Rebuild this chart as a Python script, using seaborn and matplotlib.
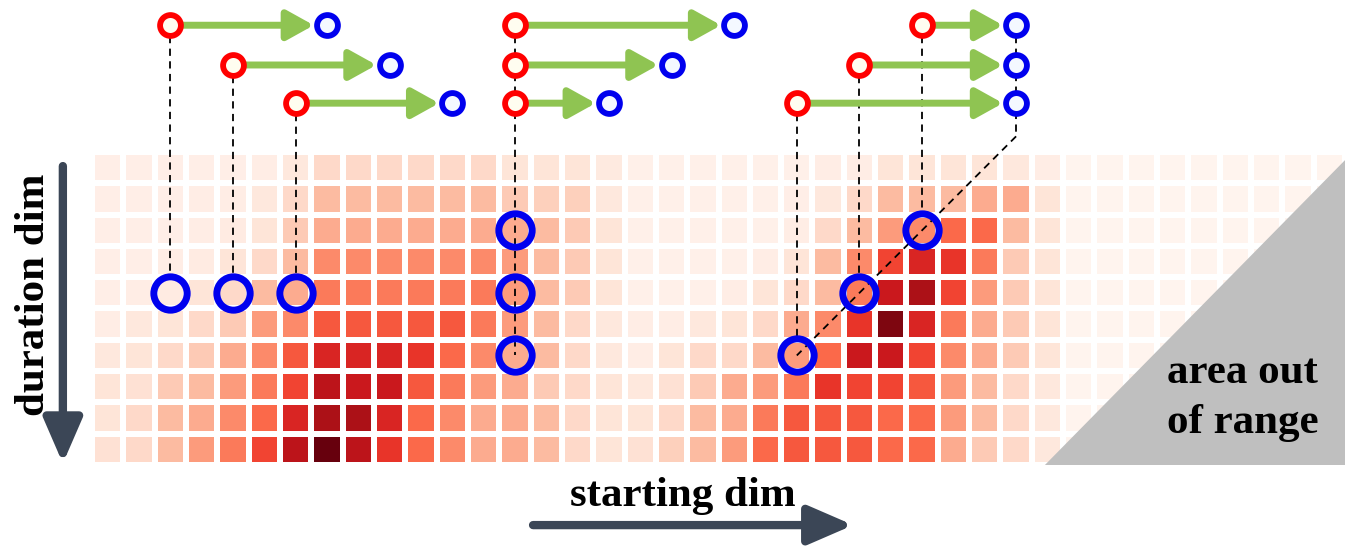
import numpy as np
import pandas as pd
import seaborn as sns
import matplotlib.pyplot as plt
from matplotlib.patches import Polygon

# heatmap intensities, 10 duration rows x 40 start columns
r0 = [0.4, 0.4, 0.4, 0.4, 0.4, 0.5, 0.8, 1.5, 1.5, 1.5, 1.5, 1.5, 1.5, 1, 1, 1, 0.7, 0.3, 0.3, 0.3,
      0.3, 0.3, 0.3, 0.5, 0.5, 1, 1, 1, 1, 0.8, 0.5, 0.1, 0.1, 0.1, 0.1, 0.1, 0.1, 0.1, 0.1, 0.1]
r1 = [0.4, 0.4, 0.4, 0.5, 0.5, 0.8, 1.5, 2.5, 2.5, 2.5, 2.5, 2.5, 2.5, 2, 1.8, 1.8, 0.8, 0.3, 0.3, 0.3,
      0.3, 0.3, 0.4, 0.8, 1.5, 2.5, 2.5, 2.5, 3, 3, 1, 0.1, 0.1, 0.1, 0.1, 0.1, 0.1, 0.1, 0.1, 0.1]
r2 = [0.4, 0.4, 0.4, 0.5, 0.6, 1, 2, 3, 3, 3, 3, 3, 3, 3, 2.5, 2, 1, 0.3, 0.3, 0.3,
      0.3, 0.3, 0.5, 1.5, 2.5, 3.5, 4, 5, 5, 2.5, 1, 0.1, 0.1, 0.1, 0.1, 0.1, 0.1, 0.1, 0.1, 0.1]
r3 = [0.4, 0.4, 0.5, 0.6, 1, 1.5, 2.5, 4, 4, 4, 4, 4, 4, 3.5, 2.5, 2, 1, 0.3, 0.3, 0.3,
      0.3, 0.5, 1, 2.5, 4, 6, 7, 6.5, 4.5, 2, 1, 0.1, 0.1, 0.1, 0.1, 0.1, 0.1, 0.1, 0.1, 0.1]
r4 = [0.4, 0.5, 0.6, 1, 1.5, 2.5, 3, 4.5, 4.5, 4.5, 4.5, 4.5, 4.5, 3.5, 2.5, 2, 1, 0.3, 0.3, 0.3,
      0.5, 1, 1.5, 2.5, 4.5, 7.5, 8.5, 6, 3.5, 2, 1, 0.1, 0.1, 0.1, 0.1, 0.1, 0.1, 0.1, 0.1, 0.1]
r5 = [0.5, 0.8, 1, 1.5, 2, 3.5, 4, 5.5, 5.5, 5.5, 5.5, 5.5, 4.5, 3.5, 2.5, 1.5, 0.8, 0.5, 0.5, 0.8,
      1, 1.5, 3, 4, 6.5, 9.5, 7, 4.5, 3, 2, 1, 0.1, 0.1, 0.1, 0.1, 0.1, 0.1, 0.1, 0.1, 0.1]
r6 = [0.8, 1, 1.5, 2, 3, 4, 5.5, 7, 7, 7, 6.5, 5, 4, 3, 2.5, 1.5, 0.8, 0.5, 1, 1.5,
      1.5, 2.5, 3.5, 5, 7.5, 7.5, 6, 4, 3, 2, 1, 0.1, 0.1, 0.1, 0.1, 0.1, 0.1, 0.1, 0.1, 0.1]
r7 = [1, 1.2, 2, 2.5, 3.5, 4.5, 6, 8, 7.5, 7.5, 5.5, 4.5, 3.5, 3, 2, 1.5, 1, 0.8, 1.2, 2,
      3, 3.5, 4.5, 6.5, 6, 6, 5.5, 3.5, 2.5, 1.5, 0.8, 0.1, 0.1, 0.1, 0.1, 0.1, 0.1, 0.1, 0.1, 0.1]
r8 = [1, 1.5, 2.5, 3, 4, 5, 7, 8.5, 8.5, 7, 5, 4, 3, 3, 2.5, 1.5, 1, 1, 1.5, 2.5,
      3, 4.5, 5.5, 5.5, 5.5, 5, 5, 3.5, 2.5, 1.5, 0.8, 0.1, 0.1, 0.1, 0.1, 0.1, 0.1, 0.1, 0.1, 0.1]
r9 = [1.2, 1.5, 2.5, 3.5, 4.5, 6, 8, 10, 8, 6.5, 5, 4, 3, 3, 2.5, 1.5, 1, 1.2, 1.8, 2.5,
      3.5, 5, 5.5, 5.5, 5.5, 5, 5, 3, 2, 1.5, 0.8, 0.1, 0.1, 0.1, 0.1, 0.1, 0.1, 0.1, 0.1, 0.1]

# intervals shown above the map: start column, duration, lane
starts = [2, 4, 6, 13, 13, 13, 26, 24, 22]
durations = [5, 5, 5, 7, 5, 3, 3, 5, 7]
lanes = [0, 1, 2, 0, 1, 2, 0, 1, 2]
groups = [0, 0, 0, 1, 1, 1, 2, 2, 2]

grid = pd.DataFrame([r0, r1, r2, r3, r4, r5, r6, r7, r8, r9])
n_rows, n_cols = grid.shape

fig = plt.figure(figsize=(13.55, 5.49), dpi=100)
ax = fig.add_axes([0, 0, 1, 1])
sns.heatmap(grid, ax=ax, cmap='Reds', vmin=0, vmax=10, cbar=False,
            linewidths=3, linecolor='white', xticklabels=False, yticklabels=False)

# pixel layout -> data units
pc = (1345 - 92) / n_cols
pr = (465 - 152) / n_rows
ax.set_xlim(-92 / pc, n_cols + 10 / pc)
ax.set_ylim(n_rows + 84 / pr, -152 / pr)
ax.axis('off')

lane_y = [-4.05, -2.78, -1.56]
green = '#8fc452'
dash = (0, (4, 3))

for s, d, ln, g in zip(starts, durations, lanes, groups):
    x0 = s + 0.5
    x1 = s + d + 0.5
    y = lane_y[ln]
    hy = d - 0.5
    ax.annotate('', xy=(x1 - 0.42, y), xytext=(x0 + 0.25, y),
                arrowprops=dict(arrowstyle='-|>,head_length=0.9,head_width=0.5',
                                color=green, lw=5, shrinkA=0, shrinkB=0,
                                mutation_scale=18), zorder=3)
    ax.plot([x0], [y], 'o', ms=15, mfc='#fffdf0', mec='#ff0000', mew=4.2, zorder=5)
    ax.plot([x1], [y], 'o', ms=15, mfc='#f4f8ff', mec='#0000ee', mew=4.2, zorder=5)
    if g != 1:
        ax.plot([x0, x0], [y + 0.35, hy - 0.55], color='black', lw=1.3, ls=dash, zorder=2)
    ax.plot([x0], [hy], 'o', ms=24, mfc='none', mec='#0000ee', mew=5, zorder=6)

# shared start column: one line through all lanes
g1 = [s for s, g in zip(starts, groups) if g == 1]
g1d = [d for d, g in zip(durations, groups) if g == 1]
ax.plot([g1[0] + 0.5, g1[0] + 0.5], [lane_y[0] + 0.35, max(g1d) - 0.5],
        color='black', lw=1.3, ls=dash, zorder=2)

# shared end column: vertical then diagonal
g2 = [(s, d) for s, d, g in zip(starts, durations, groups) if g == 2]
end = g2[0][0] + g2[0][1]
ax.plot([end + 0.5, end + 0.5], [lane_y[0] + 0.35, -0.5], color='black', lw=1.3, ls=dash, zorder=2)
smin = min(s for s, d in g2)
ax.plot([end + 0.5, smin + 0.5], [-0.5, end - smin - 0.5], color='black', lw=1.3, ls=dash, zorder=4)

# out-of-range triangle
tri = Polygon([(n_cols - n_rows + 0.42, n_rows), (n_cols, 0.26), (n_cols, n_rows)],
              closed=True, color='#bfbfbf', lw=0, zorder=3)
ax.add_patch(tri)

font = dict(family='Liberation Serif', weight='bold', size=31)
ax.text(39.15, 7.85, 'area out\nof range', ha='right', va='center', linespacing=1.4,
        zorder=7, **font)

dark = '#3b4656'
ax.annotate('', xy=(-0.93, 9.95), xytext=(-0.93, 0.45),
            arrowprops=dict(arrowstyle='-|>,head_length=1.5,head_width=0.65',
                            color=dark, lw=6, shrinkA=0, shrinkB=0, mutation_scale=18))
ax.text(-1.85, 4.57, 'duration dim', rotation=90, ha='center', va='center', **font)

ax.annotate('', xy=(24.3, 11.92), xytext=(14.08, 11.92),
            arrowprops=dict(arrowstyle='-|>,head_length=1.5,head_width=0.65',
                            color=dark, lw=6, shrinkA=0, shrinkB=0, mutation_scale=18))
ax.text(18.85, 11.0, 'starting dim', ha='center', va='center', **font)

fig.savefig('out.png', dpi=100, facecolor='white')
